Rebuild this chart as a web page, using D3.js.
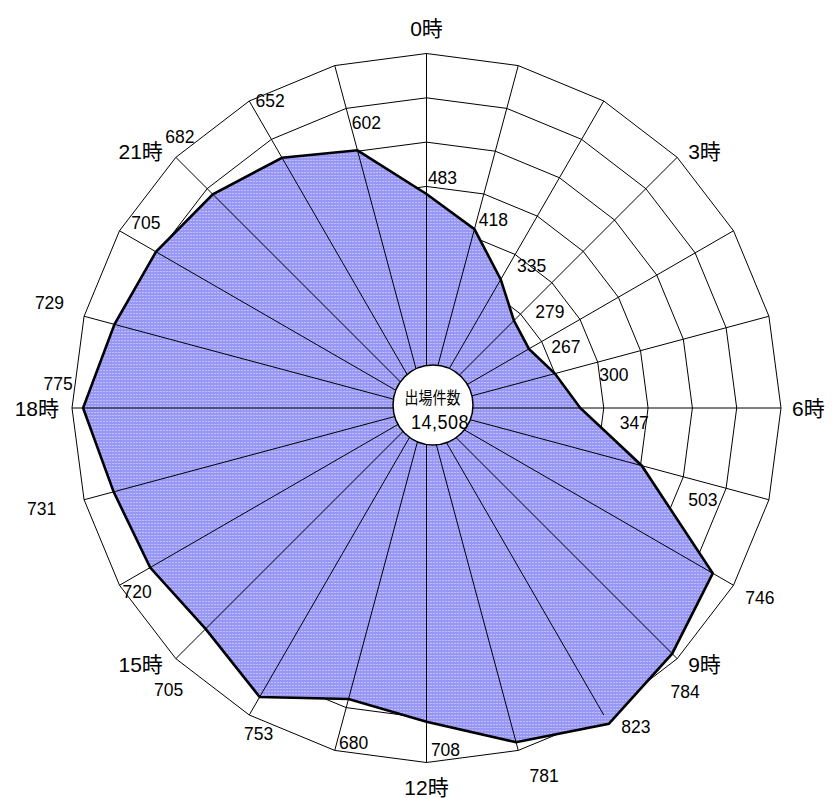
<!DOCTYPE html>
<html>
<head>
<meta charset="utf-8">
<script src="https://d3js.org/d3.v7.min.js"></script>
<style>
  html, body { margin: 0; padding: 0; background: #fff; }
  svg text { font-family: Arial, "Liberation Sans", "Noto Sans CJK JP", sans-serif; fill: #000; }
</style>
</head>
<body>
<svg id="chart" width="832" height="798"></svg>
<script>
// Dispatch counts by hour of day (0時 .. 23時)
const categories = ["0時","1時","2時","3時","4時","5時","6時","7時","8時","9時","10時","11時",
                    "12時","13時","14時","15時","16時","17時","18時","19時","20時","21時","22時","23時"];
const counts = [483, 418, 335, 279, 267, 300, 347, 503, 746, 784, 823, 781,
                708, 680, 753, 705, 720, 731, 775, 729, 705, 682, 652, 602];
const gridValues = [100, 200, 300, 400, 500, 600, 700, 800];
const centerTitle = "出場件数";
const centerTotal = "14,508";

// Hand-placed nudges for each value label, relative to its vertex (px)
const labelNudge = [
  [16,-16],[19,-9],[31,-13],[36,-9],[37,-2],[59,1],[54,15],[61,34],[47,25],[13,38],[27,3],[28,34],
  [19,28],[5,44],[-1,37],[-37,61],[-13,24],[-72,17],[-25,-24],[-65,-21],[-10,-29],[-33,-57],[-12,-57],[9,-27]
];

const svg = d3.select("#chart");
const cx = 426.5, cy = 408, R = 354.5;
const g = svg.append("g").attr("transform", `translate(${cx},${cy})`);

const r = d3.scaleLinear().domain([0, d3.max(gridValues)]).range([0, R]);
const step = 2 * Math.PI / categories.length;
const ang = i => i * step;
const px = (i, v) => r(v) * Math.sin(ang(i));
const py = (i, v) => -r(v) * Math.cos(ang(i));
const rmax = d3.max(gridValues);

// fill pattern: blue with fine light dots
const defs = svg.append("defs");
const pat = defs.append("pattern").attr("id", "dots")
  .attr("width", 3).attr("height", 3).attr("patternUnits", "userSpaceOnUse");
pat.append("rect").attr("width", 3).attr("height", 3).attr("fill", "#9898f4");
pat.append("rect").attr("x", 1).attr("y", 1).attr("width", 1).attr("height", 1).attr("fill", "#e4e4ff");

// grid rings (24-gon)
const radial = d3.lineRadial().angle((d, i) => ang(i)).radius(d => r(d)).curve(d3.curveLinearClosed);
g.selectAll("path.ring").data(gridValues).join("path")
  .attr("class", "ring")
  .attr("d", v => radial(categories.map(() => v)))
  .attr("fill", "none").attr("stroke", "#000").attr("stroke-width", 1);

// data polygon fill
g.append("path").attr("d", radial(counts)).attr("fill", "url(#dots)").attr("stroke", "none");

// spokes
g.selectAll("line.spoke").data(categories).join("line")
  .attr("class", "spoke")
  .attr("x1", 0).attr("y1", 0)
  .attr("x2", (d, i) => px(i, rmax))
  .attr("y2", (d, i) => py(i, rmax))
  .attr("stroke", "#000").attr("stroke-width", 1);

// data outline
g.append("path").attr("d", radial(counts)).attr("fill", "none")
  .attr("stroke", "#000").attr("stroke-width", 2.6).attr("stroke-linejoin", "miter");

// center disc with total
g.append("circle").attr("cx", 6.5).attr("cy", -3).attr("r", 40)
  .attr("fill", "#fff").attr("stroke", "#000").attr("stroke-width", 1.5);
g.append("text")
  .attr("transform", "translate(6,-9.5) scale(1,1.2)")
  .attr("text-anchor", "middle").attr("dominant-baseline", "central")
  .style("font-size", "14px").text(centerTitle);
g.append("text")
  .attr("transform", "translate(13.5,14) scale(1,1.08)")
  .attr("text-anchor", "middle").attr("dominant-baseline", "central")
  .style("font-size", "18px").style("letter-spacing", "0.5px").text(centerTotal);

// value labels
g.selectAll("text.val").data(counts).join("text")
  .attr("class", "val")
  .attr("x", (d, i) => px(i, d) + labelNudge[i][0])
  .attr("y", (d, i) => py(i, d) + labelNudge[i][1])
  .attr("text-anchor", "middle").attr("dominant-baseline", "central")
  .style("font-size", "17.5px")
  .text(d => d);

// hour labels every 3 hours
g.selectAll("text.hour").data(categories.filter((d, i) => i % 3 === 0)).join("text")
  .attr("class", "hour")
  .each(function(d) {
    const i = categories.indexOf(d);
    const s = Math.sin(ang(i)), c = Math.cos(ang(i));
    const t = d3.select(this);
    if (Math.abs(s) < 1e-6) {
      t.attr("x", 0).attr("y", -(R + 25) * c).attr("text-anchor", "middle");
    } else {
      t.attr("x", px(i, rmax) + (s > 0 ? 11 : -13))
       .attr("y", py(i, rmax) - 8.5 * c)
       .attr("text-anchor", s > 0 ? "start" : "end");
    }
  })
  .attr("dominant-baseline", "central")
  .style("font-size", "21px")
  .text(d => d);
</script>
</body>
</html>
